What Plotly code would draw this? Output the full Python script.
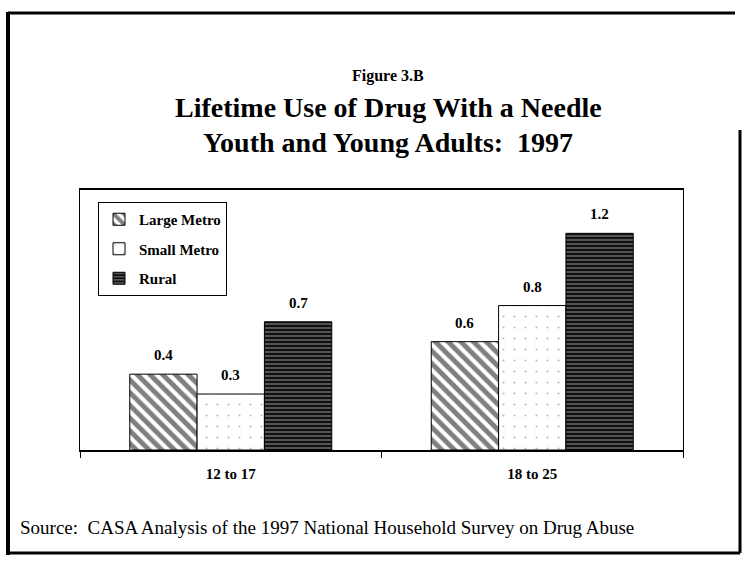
import plotly.graph_objects as go

# data
age_groups = ["12 to 17", "18 to 25"]
large_metro = [0.42, 0.60]
small_metro = [0.31, 0.80]
rural = [0.71, 1.20]

SERIF = "Liberation Serif"

# plot area in pixels (page is 745 x 571)
L, R, T, B = 80, 683, 190, 450
W, H = 745, 571
BARGAP = 0.33


def px_x(px):
    return (px - L) / (R - L)


def px_y(py):
    return (B - py) / (B - T)


styles = [
    ("Large Metro", large_metro, dict(shape="\\", bgcolor="white", fgcolor="black", size=9, solidity=0.55)),
    ("Small Metro", small_metro, dict(shape=".", bgcolor="white", fgcolor="#777", size=11, solidity=0.03)),
    ("Rural", rural, dict(shape="-", bgcolor="#111", fgcolor="white", size=4, solidity=0.28)),
]

fig = go.Figure()
bar_w = (1 - BARGAP) / len(styles)
for k, (name, vals, pat) in enumerate(styles):
    fig.add_trace(go.Bar(
        x=age_groups, y=vals, name=name, legendgroup=name,
        marker=dict(color=pat["bgcolor"], pattern=pat, line=dict(color="black", width=1)),
    ))
    # value labels sit a little above each bar
    for i, v in enumerate(vals):
        fig.add_annotation(
            x=i + (k - 1) * bar_w, y=v, xref="x", yref="y",
            text=f"<b>{v:.1f}</b>", showarrow=False,
            xanchor="center", yanchor="bottom", yshift=9,
            font=dict(family=SERIF, size=15, color="black"),
        )

fig.update_layout(
    width=W, height=H,
    margin=dict(l=L, r=W - R, t=T, b=H - B, pad=0),
    paper_bgcolor="white", plot_bgcolor="white",
    barmode="group", bargap=BARGAP, bargroupgap=0,
    showlegend=True,
    legend=dict(
        x=px_x(98), y=px_y(202), xanchor="left", yanchor="top",
        bordercolor="black", borderwidth=1, bgcolor="white",
        font=dict(family=SERIF, size=15, color="black", weight="bold"),
        tracegroupgap=7, itemwidth=30,
    ),
    font=dict(family=SERIF, color="black"),
)

fig.update_xaxes(
    showline=True, linecolor="black", linewidth=1.5, mirror=True,
    ticks="outside", tickson="boundaries", ticklen=6, tickcolor="black",
    tickfont=dict(family=SERIF, size=15, color="black", weight="bold"),
    ticklabelstandoff=9, showgrid=False,
)
fig.update_yaxes(
    range=[0, 1.44], showline=True, linecolor="black", linewidth=1, mirror=True,
    showticklabels=False, ticks="", showgrid=False, zeroline=False,
)

# titles
titles = [
    ("<b>Figure 3.B</b>", 76, 16),
    ("<b>Lifetime Use of Drug With a Needle</b>", 107, 28),
    ("<b>Youth and Young Adults:  1997</b>", 142, 28),
]
for txt, ypix, size in titles:
    fig.add_annotation(
        text=txt, xref="paper", yref="paper", x=px_x(388), y=px_y(ypix),
        xanchor="center", yanchor="middle", showarrow=False,
        font=dict(family=SERIF, size=size, color="black"),
    )

fig.add_annotation(
    text="Source:  CASA Analysis of the 1997 National Household Survey on Drug Abuse",
    xref="paper", yref="paper", x=px_x(18), y=px_y(527),
    xanchor="left", yanchor="middle", showarrow=False,
    font=dict(family=SERIF, size=19, color="black"),
)

# outer page frame
frame = [
    (8, 12, 8, 555, 4),
    (8, 13, 735, 13, 3),
    (8, 553, 740, 553, 3),
    (740, 130, 740, 553, 3),
]
for x0, y0, x1, y1, w in frame:
    fig.add_shape(type="line", xref="paper", yref="paper",
                  x0=px_x(x0), y0=px_y(y0), x1=px_x(x1), y1=px_y(y1),
                  line=dict(color="black", width=w))

fig.write_html("out.html", config={"displayModeBar": False},
               post_script="document.body.style.margin='0';")
